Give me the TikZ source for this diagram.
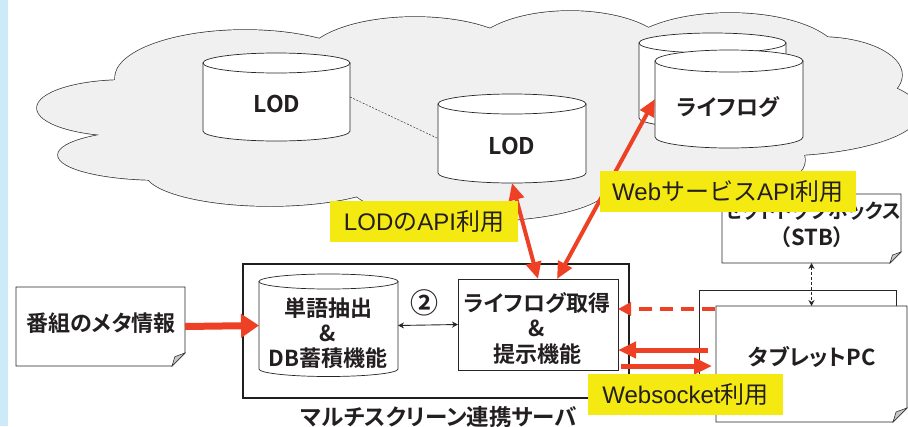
\documentclass[tikz,border=0pt]{standalone}
\usepackage{fontspec}
\usepackage{graphicx}
\usetikzlibrary{arrows.meta}
\newfontfamily\jp{Noto Sans CJK JP}
\newfontfamily\jpb{Noto Sans CJK JP Bold}[RawFeature=+palt]
\newfontfamily\lat{Liberation Sans}
\definecolor{arred}{RGB}{238,64,36}
\definecolor{labely}{RGB}{245,233,18}
\definecolor{cloudg}{RGB}{240,240,240}
\definecolor{stripb}{RGB}{204,234,247}
\definecolor{foldg}{RGB}{200,200,200}
\definecolor{ink}{RGB}{35,31,32}
\newcommand\cylshape[5]{%
 \pgfmathsetmacro\cycx{(#1+#2)/2}%
 \pgfmathsetmacro\cyrx{(#2-#1)/2}%
 \pgfmathsetmacro\cyk{0.5523*#5}%
 \pgfmathsetmacro\cykx{0.5523*(#2-#1)/2}%
 \pgfmathsetmacro\cybot{#4+#5}%
 \pgfmathsetmacro\cyka{#4+\cyk}%
 \filldraw[cylst] (#1,#3) -- (#1,#4) .. controls (#1,\cyka) and (\cycx-\cykx,\cybot) .. (\cycx,\cybot) .. controls (\cycx+\cykx,\cybot) and (#2,\cyka) .. (#2,#4) -- (#2,#3) -- cycle;
 \filldraw[cylst] (\cycx,#3) ellipse [x radius=\cyrx, y radius=#5];
}
\newcommand\docdraw[2]{%
 \filldraw[boxst] (#1.north west) -- (#1.north east) -- ([shift={(0,-#2)}]#1.south east) -- ([shift={(-#2,0)}]#1.south east) -- (#1.south west) -- cycle;
 \filldraw[draw=black!80, fill=foldg, line width=0.6pt] ([shift={(0,-#2)}]#1.south east) -- ([shift={(-#2,0)}]#1.south east) -- ([shift={(-0.78*#2,-0.72*#2)}]#1.south east) -- cycle;
}
\tikzset{
 cylst/.style={draw=black!85, line width=0.7pt, fill=white},
 boxst/.style={draw=black!85, line width=0.8pt, fill=white},
 bbox/.style={shape=rectangle, inner sep=0pt, outer sep=0pt},
 bt/.style={font=\jpb\fontsize{22}{25.5}\selectfont, align=center, inner sep=0pt, text=ink},
 lbl/.style={fill=labely, inner sep=0pt, font=\fontsize{24}{24}\selectfont, text=ink},
 cloudline/.style={draw=black!80, line width=1.4pt},
 redthick/.style={draw=arred, line width=7pt, -{Triangle[length=18pt,width=23pt]}},
 redmid/.style={draw=arred, line width=5pt, -{Triangle[length=18pt,width=16pt]}},
 reddbl/.style={draw=arred, line width=4pt, {Triangle[length=17pt,width=15pt]}-{Triangle[length=17pt,width=15pt]}},
 reddash/.style={draw=arred, line width=4pt, dash pattern=on 13pt off 8pt, -{Triangle[length=13pt,width=13pt]}},
 blkdbl/.style={draw=black!85, line width=0.9pt, {Stealth[length=6pt,width=6pt]}-{Stealth[length=6pt,width=6pt]}},
 stbdbl/.style={draw=black!85, line width=0.8pt, dash pattern=on 3pt off 2pt, {Stealth[length=6pt,width=6pt]}-{Stealth[length=6pt,width=6pt]}},
 dashline/.style={draw=black!80, line width=0.5pt, dash pattern=on 2pt off 1.5pt}
}
\begin{document}
\begin{tikzpicture}[x=1pt,y=-1pt]
\useasboundingbox (0,0) rectangle (908,426);
\fill[white] (0,0) rectangle (908,426);
\fill[stripb] (0,0) rectangle (8,426);
% cloud
\foreach \cx/\cy/\rx/\ry in {125/108/88/28, 160/155/102/25, 245/78/130/48, 415/60/110/43, 570/55/100/44, 730/58/110/45, 820/75/82/38, 770/112/150/44, 700/160/105/40, 480/185/130/36, 270/172/125/34, 480/120/330/75}
 {\draw[cloudline] (\cx,\cy) ellipse [x radius=\rx, y radius=\ry];}
\foreach \cx/\cy/\rx/\ry in {125/108/88/28, 160/155/102/25, 245/78/130/48, 415/60/110/43, 570/55/100/44, 730/58/110/45, 820/75/82/38, 770/112/150/44, 700/160/105/40, 480/185/130/36, 270/172/125/34, 480/120/330/75}
 {\fill[cloudg] (\cx,\cy) ellipse [x radius=\rx, y radius=\ry];}
% cylinders in the cloud
\cylshape{203}{350}{63}{131}{10}
\node[bbox, minimum width=147pt, minimum height=88pt] (lod1) at (276.5,97) {};
\node[bt, font=\jpb\fontsize{23}{23}\selectfont] (lod1t) at (277,104) {LOD};
\cylshape{438}{586}{104}{173}{10}
\node[bbox, minimum width=148pt, minimum height=89pt] (lod2) at (512,138.5) {};
\node[bt, font=\jpb\fontsize{23}{23}\selectfont] (lod2t) at (512,146) {LOD};
\draw[dashline] (lod1.east) -- (lod2.west);
\cylshape{639}{786}{43}{118}{10}
\cylshape{655}{803}{61}{137}{11}
\node[bbox, minimum width=148pt, minimum height=98pt] (llf) at (729,99) {};
\node[bt] (llft) at (728,107) {ライフログ};
% set top box
\node[bbox, minimum width=179pt, minimum height=69pt] (stb) at (811.5,228.5) {};
\docdraw{stb}{11}
\node[bt, font=\jpb\fontsize{20}{27}\selectfont] (stbt) at (812,225) {セットトップボックス\\{\fontsize{22}{27}\selectfont （STB）}};
% tablets
\node[bbox, minimum width=197pt, minimum height=115pt] (tabb) at (797.5,347.5) {};
\filldraw[boxst] (tabb.north west) rectangle (tabb.south east);
\node[bbox, minimum width=191pt, minimum height=116pt] (tabf) at (811.5,364) {};
\docdraw{tabf}{14}
\node[bt] (tabt) at (812,357) {タブレットPC};
% server
\node[bbox, draw=black!88, line width=2.2pt, fill=white, minimum width=386pt, minimum height=134pt] (srv) at (436,331) {};
\cylshape{259}{398}{281.5}{369}{7.5}
\node[bbox, minimum width=139pt, minimum height=103pt] (w) at (328.5,325.5) {};
\node[bt, font=\jpb\fontsize{22}{25}\selectfont] (wt) at (328,333) {単語抽出\\\&\\DB蓄積機能};
\node[bbox, draw=black!85, line width=0.8pt, fill=white, minimum width=160pt, minimum height=91pt] (llbox) at (538,324.5) {};
\node[bt] (llboxt) at (537,328) {ライフログ取得\\\&\\提示機能};
\node[bt, font=\jpb\fontsize{28}{28}\selectfont] (num) at (424,303) {②};
% meta doc
\node[bbox, minimum width=169pt, minimum height=79pt] (meta) at (100.5,326.5) {};
\docdraw{meta}{13}
\node[bt] (metat) at (101,323) {番組のメタ情報};
% connectors
\draw[redthick] (meta.east) -- (w.west);
\draw[reddbl] (lod2.south) -- (llbox.north);
\draw[reddbl] (llf.west) -- ([shift={(19,0)}]llbox.north);
\draw[blkdbl] (w.east) -- (llbox.west);
\draw[stbdbl] (stb.south) -- (tabf.north);
\coordinate (dA) at ([shift={(-1,3)}]tabf.north west);
\draw[reddash] (dA) -- (dA -| llbox.east);
\coordinate (aL) at ([shift={(-8,-14)}]tabf.west);
\draw[redmid] (aL) -- (aL -| llbox.east);
\coordinate (aR) at ([shift={(3,41.5)}]llbox.east);
\coordinate (aRe) at ([shift={(-4,2)}]tabf.west);
\draw[redmid] (aR) -- (aRe);
% labels
\node[lbl, minimum width=188pt, minimum height=41pt] (lodl) at (424,221.5) {{\lat LOD}{\jp の}{\lat API}{\jp 利用}};
\node[lbl, minimum width=256pt, minimum height=41pt] (webl) at (728,191.5) {{\lat Web}{\jp サービス}{\lat API}{\jp 利用}};
\node[lbl, minimum width=195pt, minimum height=41pt] (wsl) at (685.5,394.5) {{\lat Websocket}{\jp 利用}};
\node[bt, font=\jpb\fontsize{22.5}{22.5}\selectfont] (srvt) at (439,417) {マルチスクリーン連携サーバ};
\end{tikzpicture}
\end{document}
